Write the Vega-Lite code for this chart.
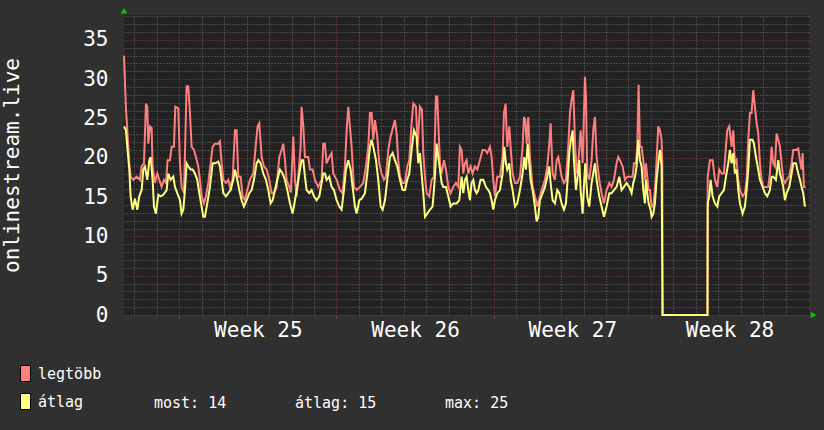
{
  "$schema": "https://vega.github.io/schema/vega-lite/v6.json",
  "width": 685,
  "height": 300,
  "autosize": "none",
  "padding": {"left": 124, "top": 15, "right": 15, "bottom": 115},
  "background": "#303030",
  "view": {"fill": "#222222", "stroke": null},
  "config": {
    "font": "DejaVu Sans Mono",
    "axis": {"labelFont": "DejaVu Sans Mono", "titleFont": "DejaVu Sans Mono", "labelColor": "#ffffff", "titleColor": "#ffffff", "titleFontWeight": "normal", "domain": false, "ticks": false},
    "legend": {"labelFont": "DejaVu Sans Mono", "labelColor": "#ffffff", "labelFontSize": 15}
  },
  "datasets": {
    "maxv": [
      {"t":-2.46,"v":33},{"t":-2.373,"v":26.3},{"t":-2.314,"v":23.5},{"t":-2.269,"v":21.4},{"t":-2.224,"v":19.3},{"t":-2.165,"v":17.6},{"t":-2.046,"v":17.2},{"t":-1.898,"v":17.6},{"t":-1.75,"v":17.2},{"t":-1.675,"v":18.9},{"t":-1.571,"v":19.3},{"t":-1.482,"v":26.9},{"t":-1.423,"v":26.5},{"t":-1.379,"v":21.8},{"t":-1.304,"v":24.0},{"t":-1.23,"v":23.8},{"t":-1.186,"v":18.9},{"t":-1.082,"v":16.8},{"t":-0.978,"v":18.0},{"t":-0.889,"v":17.2},{"t":-0.785,"v":16.3},{"t":-0.681,"v":17.2},{"t":-0.592,"v":16.8},{"t":-0.518,"v":19.7},{"t":-0.414,"v":19.7},{"t":-0.34,"v":21.4},{"t":-0.236,"v":21.4},{"t":-0.176,"v":26.5},{"t":-0.043,"v":26.3},{"t":0.031,"v":19.3},{"t":0.106,"v":16.3},{"t":0.21,"v":15.5},{"t":0.328,"v":29.1},{"t":0.402,"v":29.1},{"t":0.477,"v":25.7},{"t":0.551,"v":21.4},{"t":0.655,"v":21.0},{"t":0.744,"v":20.1},{"t":0.848,"v":18.9},{"t":0.922,"v":17.2},{"t":0.996,"v":15.1},{"t":1.1,"v":14.2},{"t":1.189,"v":15.1},{"t":1.293,"v":16.8},{"t":1.397,"v":19.3},{"t":1.486,"v":21.4},{"t":1.59,"v":21.8},{"t":1.738,"v":21.8},{"t":1.812,"v":22.1},{"t":1.887,"v":19.3},{"t":1.961,"v":17.2},{"t":2.08,"v":16.8},{"t":2.183,"v":17.2},{"t":2.258,"v":16.3},{"t":2.376,"v":17.2},{"t":2.48,"v":23.5},{"t":2.554,"v":23.5},{"t":2.629,"v":17.6},{"t":2.733,"v":17.6},{"t":2.822,"v":15.1},{"t":2.925,"v":14.6},{"t":3.029,"v":15.9},{"t":3.148,"v":17.2},{"t":3.296,"v":18.0},{"t":3.4,"v":21.4},{"t":3.489,"v":24.0},{"t":3.564,"v":24.4},{"t":3.668,"v":20.1},{"t":3.771,"v":18.9},{"t":3.89,"v":18.5},{"t":4.009,"v":17.2},{"t":4.113,"v":15.5},{"t":4.217,"v":15.5},{"t":4.335,"v":16.3},{"t":4.454,"v":20.1},{"t":4.558,"v":21.0},{"t":4.632,"v":21.8},{"t":4.706,"v":19.7},{"t":4.781,"v":17.2},{"t":4.899,"v":16.3},{"t":4.97,"v":15.6},
      {"t":5.077,"v":22.7},{"t":5.152,"v":17.2},{"t":5.226,"v":15.1},{"t":5.3,"v":17.6},{"t":5.404,"v":21.4},{"t":5.448,"v":26.5},{"t":5.523,"v":24.0},{"t":5.597,"v":20.1},{"t":5.745,"v":20.1},{"t":5.819,"v":18.5},{"t":5.938,"v":18.5},{"t":6.042,"v":17.2},{"t":6.19,"v":16.3},{"t":6.339,"v":17.2},{"t":6.413,"v":21.8},{"t":6.487,"v":21.8},{"t":6.562,"v":19.3},{"t":6.68,"v":20.1},{"t":6.784,"v":20.6},{"t":6.858,"v":18.0},{"t":7.007,"v":17.2},{"t":7.155,"v":15.9},{"t":7.274,"v":15.5},{"t":7.378,"v":18.9},{"t":7.452,"v":23.5},{"t":7.526,"v":26.5},{"t":7.6,"v":24.0},{"t":7.675,"v":21.4},{"t":7.778,"v":16.3},{"t":7.897,"v":15.9},{"t":8.046,"v":16.3},{"t":8.194,"v":16.8},{"t":8.313,"v":18.9},{"t":8.417,"v":21.4},{"t":8.491,"v":25.7},{"t":8.565,"v":25.7},{"t":8.639,"v":22.3},{"t":8.714,"v":24.8},{"t":8.817,"v":22.7},{"t":8.906,"v":19.3},{"t":9.01,"v":18.0},{"t":9.114,"v":17.2},{"t":9.203,"v":17.6},{"t":9.307,"v":21.0},{"t":9.411,"v":22.7},{"t":9.53,"v":24.0},{"t":9.604,"v":24.8},{"t":9.678,"v":23.1},{"t":9.752,"v":19.7},{"t":9.827,"v":17.6},{"t":9.945,"v":16.8},{"t":10.049,"v":16.8},{"t":10.153,"v":18.9},{"t":10.242,"v":19.7},{"t":10.346,"v":24.4},{"t":10.42,"v":26.9},{"t":10.539,"v":26.5},{"t":10.613,"v":21.4},{"t":10.717,"v":26.5},{"t":10.806,"v":26.1},{"t":10.866,"v":20.6},{"t":10.94,"v":17.6},{"t":11.014,"v":15.5},{"t":11.133,"v":15.1},{"t":11.237,"v":17.2},{"t":11.34,"v":17.6},{"t":11.429,"v":27.8},{"t":11.489,"v":27.8},{"t":11.548,"v":23.5},{"t":11.608,"v":19.3},{"t":11.682,"v":18.0},{"t":11.786,"v":19.7},{"t":11.875,"v":18.5},{"t":11.979,"v":16.3},{"t":12.083,"v":15.5},{"t":12.201,"v":16.3},{"t":12.32,"v":16.8},{"t":12.424,"v":16.3},
      {"t":12.498,"v":21.4},{"t":12.572,"v":21.0},{"t":12.646,"v":18.0},{"t":12.721,"v":19.3},{"t":12.795,"v":19.7},{"t":12.869,"v":18.0},{"t":12.973,"v":18.9},{"t":13.062,"v":18.0},{"t":13.166,"v":18.9},{"t":13.27,"v":18.5},{"t":13.388,"v":19.7},{"t":13.507,"v":21.0},{"t":13.611,"v":21.0},{"t":13.715,"v":20.6},{"t":13.834,"v":21.4},{"t":13.908,"v":20.1},{"t":13.982,"v":17.2},{"t":14.056,"v":15.1},{"t":14.16,"v":17.6},{"t":14.279,"v":17.6},{"t":14.398,"v":20.1},{"t":14.457,"v":25.7},{"t":14.531,"v":26.9},{"t":14.605,"v":21.4},{"t":14.695,"v":24.0},{"t":14.754,"v":21.4},{"t":14.843,"v":18.0},{"t":14.947,"v":16.8},{"t":15.051,"v":16.8},{"t":15.17,"v":17.6},{"t":15.288,"v":21.4},{"t":15.348,"v":25.2},{"t":15.407,"v":24.8},{"t":15.466,"v":21.8},{"t":15.54,"v":25.2},{"t":15.615,"v":20.1},{"t":15.733,"v":16.3},{"t":15.837,"v":15.1},{"t":15.941,"v":13.8},{"t":16.06,"v":15.1},{"t":16.179,"v":16.3},{"t":16.283,"v":17.2},{"t":16.386,"v":18.9},{"t":16.476,"v":21.8},{"t":16.535,"v":24.4},{"t":16.624,"v":18.0},{"t":16.728,"v":17.2},{"t":16.802,"v":19.7},{"t":16.876,"v":20.1},{"t":16.95,"v":18.9},{"t":17.025,"v":17.6},{"t":17.129,"v":16.8},{"t":17.218,"v":17.2},{"t":17.321,"v":21.4},{"t":17.396,"v":25.7},{"t":17.47,"v":27.4},{"t":17.544,"v":28.6},{"t":17.618,"v":22.3},{"t":17.693,"v":18.0},{"t":17.767,"v":19.3},{"t":17.871,"v":23.5},{"t":17.96,"v":19.3},{"t":18.063,"v":30.3},{"t":18.108,"v":27.8},{"t":18.167,"v":18.0},{"t":18.256,"v":17.2},{"t":18.36,"v":19.7},{"t":18.434,"v":23.5},{"t":18.509,"v":25.2},{"t":18.583,"v":20.1},{"t":18.701,"v":17.2},{"t":18.805,"v":15.5},{"t":18.909,"v":14.2},{"t":19.028,"v":15.9},{"t":19.147,"v":16.8},{"t":19.251,"v":16.3},{"t":19.355,"v":17.2},{"t":19.473,"v":19.3},{"t":19.548,"v":20.1},{"t":19.622,"v":19.7},{"t":19.741,"v":18.9},{"t":19.844,"v":17.2},{"t":19.948,"v":17.6},
      {"t":20.067,"v":17.6},{"t":20.186,"v":17.6},{"t":20.245,"v":19.3},{"t":20.334,"v":19.3},{"t":20.394,"v":21.4},{"t":20.453,"v":29.3},{"t":20.512,"v":21.4},{"t":20.586,"v":21.4},{"t":20.661,"v":19.7},{"t":20.735,"v":17.2},{"t":20.779,"v":19.3},{"t":20.839,"v":17.6},{"t":20.898,"v":15.9},{"t":20.957,"v":15.9},{"t":21.032,"v":13.8},{"t":21.106,"v":13.8},{"t":21.18,"v":15.9},{"t":21.254,"v":19.7},{"t":21.329,"v":24.0},{"t":21.403,"v":23.5},{"t":21.477,"v":22.3},{"t":21.51,"v":19.0},{"t":21.52,"v":0},{"t":23.52,"v":0},{"t":23.53,"v":17.6},{"t":23.629,"v":19.7},{"t":23.748,"v":19.7},{"t":23.852,"v":17.2},{"t":23.955,"v":16.3},{"t":24.044,"v":18.5},{"t":24.148,"v":18.0},{"t":24.252,"v":18.0},{"t":24.341,"v":21.4},{"t":24.401,"v":23.5},{"t":24.49,"v":24.0},{"t":24.594,"v":21.4},{"t":24.668,"v":23.5},{"t":24.742,"v":19.3},{"t":24.816,"v":19.7},{"t":24.891,"v":17.2},{"t":24.965,"v":15.9},{"t":25.083,"v":15.1},{"t":25.187,"v":15.5},{"t":25.261,"v":17.2},{"t":25.336,"v":22.3},{"t":25.41,"v":25.7},{"t":25.484,"v":25.7},{"t":25.558,"v":28.6},{"t":25.632,"v":26.5},{"t":25.707,"v":24.4},{"t":25.781,"v":23.1},{"t":25.855,"v":19.3},{"t":25.929,"v":17.2},{"t":26.003,"v":16.3},{"t":26.122,"v":16.3},{"t":26.226,"v":16.3},{"t":26.3,"v":18.0},{"t":26.375,"v":21.4},{"t":26.449,"v":19.3},{"t":26.523,"v":18.9},{"t":26.597,"v":23.1},{"t":26.671,"v":22.3},{"t":26.746,"v":21.4},{"t":26.82,"v":19.3},{"t":26.894,"v":17.2},{"t":26.968,"v":16.8},{"t":27.043,"v":17.2},{"t":27.161,"v":17.6},{"t":27.265,"v":19.3},{"t":27.339,"v":21.0},{"t":27.458,"v":21.0},{"t":27.562,"v":21.2},{"t":27.636,"v":19.7},{"t":27.71,"v":18.5},{"t":27.755,"v":20.6},{"t":27.814,"v":16.3},{"t":27.888,"v":16.3}
    ],
    "avgv": [
      {"t":-2.46,"v":24.0},{"t":-2.373,"v":23.5},{"t":-2.314,"v":21.4},{"t":-2.224,"v":18.5},{"t":-2.165,"v":15.1},{"t":-2.076,"v":13.4},{"t":-1.972,"v":14.8},{"t":-1.868,"v":13.4},{"t":-1.779,"v":15.1},{"t":-1.675,"v":15.9},{"t":-1.601,"v":18.5},{"t":-1.527,"v":18.9},{"t":-1.423,"v":17.2},{"t":-1.334,"v":19.7},{"t":-1.275,"v":20.1},{"t":-1.186,"v":17.2},{"t":-1.126,"v":13.8},{"t":-1.037,"v":12.9},{"t":-0.933,"v":15.3},{"t":-0.829,"v":15.1},{"t":-0.711,"v":15.3},{"t":-0.562,"v":15.9},{"t":-0.488,"v":18.0},{"t":-0.384,"v":17.2},{"t":-0.265,"v":17.6},{"t":-0.191,"v":16.3},{"t":-0.087,"v":15.5},{"t":0.031,"v":14.6},{"t":0.106,"v":12.9},{"t":0.18,"v":13.4},{"t":0.254,"v":15.9},{"t":0.328,"v":19.3},{"t":0.402,"v":18.9},{"t":0.506,"v":18.5},{"t":0.595,"v":18.5},{"t":0.699,"v":18.0},{"t":0.803,"v":17.2},{"t":0.892,"v":15.5},{"t":0.996,"v":13.8},{"t":1.07,"v":12.5},{"t":1.144,"v":12.5},{"t":1.248,"v":14.2},{"t":1.367,"v":16.3},{"t":1.486,"v":19.3},{"t":1.59,"v":19.3},{"t":1.738,"v":19.5},{"t":1.812,"v":18.9},{"t":1.887,"v":17.2},{"t":1.961,"v":15.5},{"t":2.08,"v":15.1},{"t":2.183,"v":15.5},{"t":2.287,"v":15.9},{"t":2.406,"v":17.2},{"t":2.48,"v":18.5},{"t":2.584,"v":17.2},{"t":2.673,"v":15.9},{"t":2.777,"v":14.6},{"t":2.881,"v":13.8},{"t":3.0,"v":14.6},{"t":3.118,"v":15.5},{"t":3.222,"v":15.9},{"t":3.326,"v":17.2},{"t":3.445,"v":19.3},{"t":3.519,"v":19.7},{"t":3.623,"v":19.3},{"t":3.742,"v":18.0},{"t":3.86,"v":17.2},{"t":3.964,"v":15.9},{"t":4.068,"v":14.2},{"t":4.157,"v":14.6},{"t":4.261,"v":15.9},{"t":4.365,"v":17.2},{"t":4.484,"v":18.5},{"t":4.602,"v":18.0},{"t":4.706,"v":17.2},{"t":4.81,"v":15.9},{"t":4.929,"v":14.2},
      {"t":5.048,"v":12.9},{"t":5.152,"v":14.6},{"t":5.256,"v":16.3},{"t":5.345,"v":18.0},{"t":5.448,"v":19.7},{"t":5.523,"v":19.7},{"t":5.597,"v":17.6},{"t":5.671,"v":15.9},{"t":5.79,"v":15.5},{"t":5.894,"v":15.9},{"t":5.998,"v":15.1},{"t":6.116,"v":14.6},{"t":6.235,"v":15.1},{"t":6.339,"v":16.8},{"t":6.413,"v":18.0},{"t":6.487,"v":18.0},{"t":6.562,"v":17.2},{"t":6.68,"v":17.6},{"t":6.784,"v":16.3},{"t":6.888,"v":15.9},{"t":7.007,"v":14.6},{"t":7.125,"v":13.8},{"t":7.229,"v":13.4},{"t":7.333,"v":15.9},{"t":7.422,"v":18.5},{"t":7.526,"v":19.7},{"t":7.63,"v":18.5},{"t":7.719,"v":16.3},{"t":7.823,"v":13.8},{"t":7.897,"v":12.9},{"t":8.016,"v":14.6},{"t":8.12,"v":14.8},{"t":8.268,"v":15.5},{"t":8.372,"v":18.0},{"t":8.491,"v":21.4},{"t":8.565,"v":22.3},{"t":8.639,"v":21.4},{"t":8.758,"v":19.7},{"t":8.862,"v":17.2},{"t":8.966,"v":13.8},{"t":9.055,"v":13.4},{"t":9.159,"v":14.6},{"t":9.263,"v":17.2},{"t":9.381,"v":20.1},{"t":9.5,"v":20.6},{"t":9.604,"v":19.7},{"t":9.708,"v":18.9},{"t":9.827,"v":17.2},{"t":9.945,"v":15.9},{"t":10.049,"v":15.9},{"t":10.153,"v":17.2},{"t":10.242,"v":18.0},{"t":10.346,"v":21.0},{"t":10.45,"v":23.5},{"t":10.569,"v":22.7},{"t":10.643,"v":19.3},{"t":10.717,"v":20.6},{"t":10.791,"v":18.0},{"t":10.866,"v":15.5},{"t":10.94,"v":12.5},{"t":11.044,"v":12.9},{"t":11.162,"v":13.4},{"t":11.281,"v":13.8},{"t":11.385,"v":17.6},{"t":11.459,"v":21.8},{"t":11.533,"v":20.1},{"t":11.608,"v":18.5},{"t":11.682,"v":16.8},{"t":11.756,"v":16.3},{"t":11.875,"v":16.3},{"t":11.979,"v":15.1},{"t":12.083,"v":13.8},{"t":12.201,"v":14.2},{"t":12.349,"v":14.2},{"t":12.468,"v":14.6},
      {"t":12.572,"v":17.6},{"t":12.646,"v":15.5},{"t":12.721,"v":17.2},{"t":12.795,"v":17.6},{"t":12.869,"v":15.9},{"t":12.943,"v":14.6},{"t":13.017,"v":16.8},{"t":13.092,"v":17.2},{"t":13.166,"v":15.9},{"t":13.24,"v":15.5},{"t":13.314,"v":15.9},{"t":13.418,"v":17.2},{"t":13.537,"v":17.2},{"t":13.656,"v":16.3},{"t":13.759,"v":15.9},{"t":13.834,"v":15.5},{"t":13.908,"v":14.6},{"t":13.982,"v":13.4},{"t":14.056,"v":14.6},{"t":14.16,"v":15.5},{"t":14.279,"v":15.9},{"t":14.398,"v":18.0},{"t":14.472,"v":21.4},{"t":14.546,"v":19.3},{"t":14.605,"v":18.5},{"t":14.695,"v":19.3},{"t":14.754,"v":17.2},{"t":14.843,"v":15.9},{"t":14.947,"v":13.8},{"t":15.051,"v":14.2},{"t":15.17,"v":15.9},{"t":15.288,"v":18.0},{"t":15.362,"v":20.1},{"t":15.437,"v":18.5},{"t":15.511,"v":21.8},{"t":15.585,"v":19.3},{"t":15.644,"v":17.2},{"t":15.733,"v":15.9},{"t":15.837,"v":13.8},{"t":15.912,"v":11.9},{"t":15.986,"v":12.5},{"t":16.06,"v":14.6},{"t":16.179,"v":15.5},{"t":16.283,"v":16.3},{"t":16.386,"v":17.6},{"t":16.476,"v":18.9},{"t":16.535,"v":16.8},{"t":16.624,"v":14.6},{"t":16.728,"v":14.2},{"t":16.832,"v":15.9},{"t":16.921,"v":15.5},{"t":17.025,"v":14.2},{"t":17.129,"v":13.4},{"t":17.218,"v":14.2},{"t":17.292,"v":17.2},{"t":17.366,"v":20.6},{"t":17.44,"v":22.3},{"t":17.514,"v":23.5},{"t":17.574,"v":19.7},{"t":17.663,"v":15.9},{"t":17.722,"v":17.2},{"t":17.811,"v":19.7},{"t":17.871,"v":15.9},{"t":17.96,"v":12.9},{"t":18.034,"v":17.2},{"t":18.078,"v":19.3},{"t":18.167,"v":15.1},{"t":18.256,"v":13.8},{"t":18.36,"v":16.8},{"t":18.434,"v":18.0},{"t":18.509,"v":19.3},{"t":18.583,"v":17.2},{"t":18.701,"v":15.1},{"t":18.805,"v":13.8},{"t":18.909,"v":12.5},{"t":19.028,"v":13.8},{"t":19.147,"v":15.5},{"t":19.251,"v":15.5},{"t":19.355,"v":15.9},{"t":19.473,"v":16.3},{"t":19.592,"v":17.6},{"t":19.696,"v":15.9},{"t":19.8,"v":16.3},{"t":19.919,"v":16.8},{"t":20.037,"v":16.3},
      {"t":20.141,"v":15.5},{"t":20.215,"v":16.8},{"t":20.29,"v":17.6},{"t":20.364,"v":18.9},{"t":20.438,"v":22.3},{"t":20.512,"v":19.7},{"t":20.586,"v":18.9},{"t":20.661,"v":15.9},{"t":20.735,"v":14.2},{"t":20.779,"v":17.2},{"t":20.839,"v":15.5},{"t":20.898,"v":14.2},{"t":20.987,"v":13.4},{"t":21.032,"v":12.5},{"t":21.106,"v":12.9},{"t":21.18,"v":14.2},{"t":21.254,"v":17.2},{"t":21.329,"v":19.3},{"t":21.403,"v":21.0},{"t":21.477,"v":19.0},{"t":21.52,"v":0},{"t":23.52,"v":0},{"t":23.53,"v":14.2},{"t":23.599,"v":15.1},{"t":23.659,"v":17.2},{"t":23.748,"v":15.1},{"t":23.852,"v":14.2},{"t":23.955,"v":13.8},{"t":24.044,"v":15.1},{"t":24.148,"v":15.5},{"t":24.252,"v":15.9},{"t":24.341,"v":17.6},{"t":24.445,"v":19.3},{"t":24.519,"v":21.0},{"t":24.594,"v":19.3},{"t":24.668,"v":20.6},{"t":24.742,"v":18.0},{"t":24.816,"v":18.5},{"t":24.891,"v":15.9},{"t":24.965,"v":14.2},{"t":25.083,"v":12.9},{"t":25.187,"v":13.8},{"t":25.261,"v":15.9},{"t":25.336,"v":18.5},{"t":25.41,"v":22.3},{"t":25.529,"v":22.3},{"t":25.588,"v":21.8},{"t":25.677,"v":20.1},{"t":25.781,"v":18.5},{"t":25.855,"v":17.2},{"t":25.974,"v":16.3},{"t":26.078,"v":15.5},{"t":26.181,"v":15.1},{"t":26.3,"v":15.9},{"t":26.375,"v":17.6},{"t":26.449,"v":17.6},{"t":26.567,"v":17.2},{"t":26.671,"v":19.7},{"t":26.746,"v":18.0},{"t":26.82,"v":17.2},{"t":26.894,"v":16.3},{"t":26.968,"v":14.6},{"t":27.043,"v":15.5},{"t":27.161,"v":16.3},{"t":27.265,"v":18.0},{"t":27.339,"v":19.3},{"t":27.458,"v":19.3},{"t":27.562,"v":18.0},{"t":27.636,"v":17.2},{"t":27.71,"v":16.3},{"t":27.784,"v":15.5},{"t":27.858,"v":13.8}
    ],
    "series": [{"s": "legtöbb"}, {"s": "átlag"}],
    "stats": [{"stat": "most: 14"}, {"stat": "átlag: 15"}, {"stat": "max: 25"}]
  },
  "layer": [
    {
      "data": {"name": "maxv"},
      "mark": {"type": "line", "color": "#ff7f7f", "strokeWidth": 2},
      "encoding": {
        "x": {"field": "t", "type": "quantitative", "scale": {"domain": [-2.46, 28.04], "nice": false, "zero": false},
          "axis": {"orient": "top", "grid": true, "gridColor": "#6a6a6a", "gridDash": [1, 2], "labels": false, "title": null,
            "values": [-2,-1,1,2,3,4,5,6,8,9,10,11,12,13,15,16,17,18,19,20,22,23,24,25,26,27]}},
        "y": {"field": "v", "type": "quantitative", "scale": {"domain": [0, 38.17], "nice": false, "zero": false},
          "axis": {"orient": "right", "grid": true, "gridColor": "#6a6a6a", "gridDash": [1, 2], "labels": false, "title": null,
            "values": [1,2,3,4,6,7,8,9,11,12,13,14,16,17,18,19,21,22,23,24,26,27,28,29,31,32,33,34,36,37,38]}}
      }
    },
    {
      "data": {"name": "avgv"},
      "mark": {"type": "line", "color": "#ffff7f", "strokeWidth": 2},
      "encoding": {
        "x": {"field": "t", "type": "quantitative",
          "axis": {"orient": "bottom", "grid": true, "gridColor": "#8c3c3c", "gridDash": [1, 2], "labels": false, "title": null,
            "ticks": true, "tickColor": "#8c3c3c", "tickSize": 3, "values": [0, 7, 14, 21]}},
        "y": {"field": "v", "type": "quantitative",
          "axis": {"orient": "left", "grid": true, "gridColor": "#8c3c3c", "gridDash": [1, 2],
            "values": [0, 5, 10, 15, 20, 25, 30, 35], "labelFontSize": 21, "labelPadding": 16,
            "title": "onlinestream.live", "titleFontSize": 21, "titlePadding": 64, "titleBaseline": "alphabetic"}}
      }
    },
    {
      "data": {"values": [{}]},
      "mark": {"type": "point", "shape": "triangle-up", "filled": true, "color": "#00cc00", "size": 40, "opacity": 1},
      "encoding": {
        "x": {"datum": -2.46, "type": "quantitative",
          "axis": {"orient": "bottom", "grid": false, "title": null, "values": [3.5, 10.5, 17.5, 24.5],
            "labelExpr": "'Week ' + (25 + floor(datum.value / 7))", "labelFontSize": 21, "labelPadding": 4, "labelFlush": false}},
        "y": {"datum": 38.7, "type": "quantitative", "axis": null}
      }
    },
    {
      "data": {"values": [{}]},
      "mark": {"type": "point", "shape": "triangle-right", "filled": true, "color": "#00cc00", "size": 40, "opacity": 1},
      "encoding": {
        "x": {"datum": 28.24, "type": "quantitative", "axis": null},
        "y": {"datum": 0, "type": "quantitative", "axis": null}
      }
    },
    {
      "data": {"name": "series"},
      "mark": {"type": "point", "filled": true, "size": 0},
      "encoding": {
        "color": {"field": "s", "type": "nominal", "scale": {"domain": ["legtöbb", "átlag"], "range": ["#ff7f7f", "#ffff7f"]},
          "legend": {"orient": "none", "legendX": -107, "legendY": 350, "title": null, "symbolType": "M-0.625,-1H0.625V1H-0.625Z",
            "symbolSize": 256, "symbolOpacity": 1, "symbolStrokeColor": "#000000", "symbolStrokeWidth": 1, "rowPadding": 7, "labelOffset": 4, "labelFontSize": 15}}
      }
    },
    {
      "data": {"name": "stats"},
      "mark": {"type": "point", "filled": true, "size": 0},
      "encoding": {
        "shape": {"field": "stat", "type": "nominal", "scale": {"domain": ["most: 14", "átlag: 15", "max: 25"]},
          "legend": {"orient": "none", "legendX": 15, "legendY": 380, "title": null, "direction": "horizontal", "columns": 3,
            "symbolSize": 1, "symbolOpacity": 0, "labelOffset": 0, "columnPadding": 53, "labelFontSize": 15}}
      }
    }
  ],
  "resolve": {"axis": {"x": "independent", "y": "independent"}}
}
